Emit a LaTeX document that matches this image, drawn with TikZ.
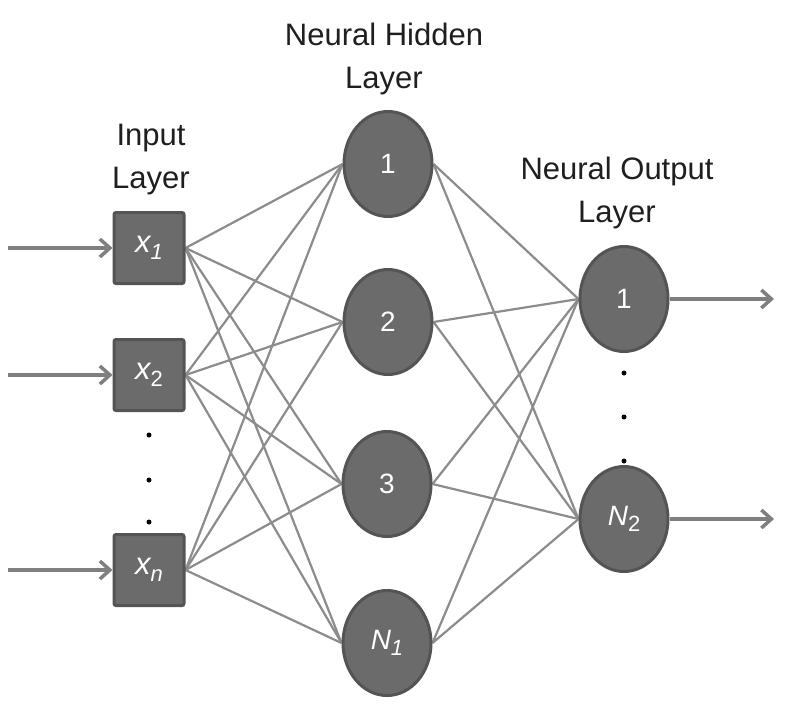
\documentclass[tikz,border=0pt]{standalone}
\usepackage{fontspec}
\setmainfont{Liberation Sans}
\usetikzlibrary{arrows.meta,shapes.geometric}
\definecolor{nodefill}{HTML}{6B6B6B}
\definecolor{nodeedge}{HTML}{545454}
\definecolor{wire}{HTML}{8C8C8C}
\definecolor{arrowc}{HTML}{7F7F7F}
\pgfdeclarelayer{bg}
\pgfsetlayers{bg,main}
\newcommand{\subsc}[1]{\raisebox{-0.4ex}{\fontsize{22}{22}\selectfont #1}}
\begin{document}
\begin{tikzpicture}[x=1pt,y=-1pt,
  inbox/.style={draw=nodeedge,fill=nodefill,line width=3pt,rounded corners=2pt,minimum width=70pt,minimum height=71pt,inner sep=0pt,text=white,font=\fontsize{31}{31}\selectfont\itshape},
  neuron/.style={draw=nodeedge,fill=nodefill,line width=3pt,ellipse,minimum width=88pt,minimum height=105pt,inner sep=0pt,text=white,font=\fontsize{28}{28}\selectfont},
  wireline/.style={draw=wire,line width=2.2pt},
  ioarrow/.style={draw=arrowc,line width=4pt,-{Straight Barb[length=10pt,width=18pt,line width=3.5pt]}},
  title/.style={align=center,font=\fontsize{31}{43}\selectfont,text=black!88},
  dotc/.style={fill=black,inner sep=0pt,minimum size=5pt,circle}
]
\useasboundingbox (0,0) rectangle (789,723);

% input boxes
\node[inbox] (x1) at (149,248) {x\subsc{1}};
\node[inbox] (x2) at (149,375) {x\subsc{\upshape 2}};
\node[inbox] (xn) at (149,570) {x\subsc{n}};

% hidden
\node[neuron] (h1) at (388,164) {1};
\node[neuron] (h2) at (388,322) {2};
\node[neuron] (h3) at (387,484) {3};
\node[neuron] (h4) at (387,643) {\itshape N\subsc{1}};

% output
\node[neuron] (o1) at (624,299) {1};
\node[neuron] (o2) at (624,519) {\itshape N\subsc{\upshape 2}};

% background and connections
\begin{pgfonlayer}{bg}
\fill[white] (0,0) rectangle (789,723);
\foreach \i in {x1,x2,xn}{
  \foreach \h in {h1,h2,h3,h4}{
    \draw[wireline] (\i.east) -- (\h.west);
  }
}
\foreach \h in {h1,h2,h3,h4}{
  \foreach \o in {o1,o2}{
    \draw[wireline] (\h.east) -- (\o.west);
  }
}
\end{pgfonlayer}

% input arrows
\coordinate (a1) at (8,248);
\coordinate (a2) at (8,375);
\coordinate (a3) at (8,570);
\draw[ioarrow] (a1) -- (x1.west);
\draw[ioarrow] (a2) -- (x2.west);
\draw[ioarrow] (a3) -- (xn.west);

% output arrows
\coordinate (b1) at (774,299);
\coordinate (b2) at (774,519);
\draw[ioarrow] (o1.east) -- (b1);
\draw[ioarrow] (o2.east) -- (b2);

% dots
\node[dotc] (d1) at (149,435) {};
\node[dotc] (d2) at (149,480) {};
\node[dotc] (d3) at (149,522) {};
\node[dotc] (e1) at (624,373) {};
\node[dotc] (e2) at (624,417) {};
\node[dotc] (e3) at (624,461) {};

% titles
\node[title] (tin) at (151,160) {Input\\Layer};
\node[title] (thid) at (384,59) {Neural Hidden\\Layer};
\node[title] (tout) at (617,193) {Neural Output\\Layer};
\end{tikzpicture}
\end{document}
